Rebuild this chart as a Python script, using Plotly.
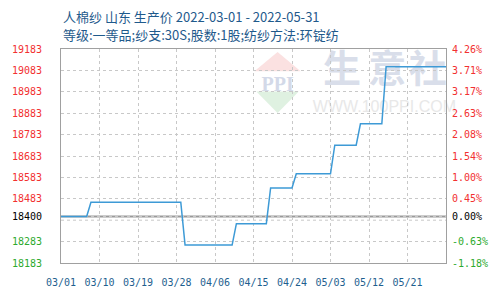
import plotly.graph_objects as go

# ---- data ----
dates = ["2022-03-01", "2022-03-07", "2022-03-08", "2022-03-29", "2022-03-30",
         "2022-04-10", "2022-04-11", "2022-04-18", "2022-04-19", "2022-04-24",
         "2022-04-25", "2022-05-03", "2022-05-04", "2022-05-09", "2022-05-10",
         "2022-05-15", "2022-05-16", "2022-05-31"]
prices = [18400, 18400, 18466.67, 18466.67, 18266.67,
          18266.67, 18366.67, 18366.67, 18533.33, 18533.33,
          18600, 18600, 18733.33, 18733.33, 18833.33,
          18833.33, 19100, 19100]

base_price = 18400
extra_grid = 18383
grid_vals = [18183, 18283, 18383, 18483, 18583, 18683, 18783, 18883, 18983, 19083, 19183]
left_vals = [18183, 18283, 18400, 18483, 18583, 18683, 18783, 18883, 18983, 19083, 19183]
left_text = ["18183", "18283", "18400", "18483", "18583", "18683", "18783", "18883", "18983", "19083", "19183"]
right_text = ["-1.18%", "-0.63%", "0.00%", "0.45%", "1.00%", "1.54%", "2.08%", "2.63%", "3.17%", "3.71%", "4.26%"]

x_tick_vals = ["2022-03-01", "2022-03-10", "2022-03-19", "2022-03-28", "2022-04-06",
               "2022-04-15", "2022-04-24", "2022-05-03", "2022-05-12", "2022-05-21"]
x_tick_text = ["03/01", "03/10", "03/19", "03/28", "04/06",
               "04/15", "04/24", "05/03", "05/12", "05/21"]
x_range = ["2022-03-01", "2022-05-30"]

title1 = "人棉纱 山东 生产价 2022-03-01 - 2022-05-31"
title2 = "等级:一等品;纱支:30S;股数:1股;纺纱方法:环锭纺"

RED, GREEN, BLACK = "#f23030", "#2eaa2e", "#000000"


def colored(vals, texts):
    out = []
    for v, t in zip(vals, texts):
        c = BLACK if v == base_price else (RED if v > base_price else GREEN)
        out.append('<span style="color:%s">%s</span>' % (c, t))
    return out


W, H = 500, 300
ML, MR, MT, MB = 50, 50, 49, 30
PW, PH = W - ML - MR, H - MT - MB


def px(x):
    return (x - ML) / PW


def py(y):
    return (H - MB - y) / PH


yrange = [grid_vals[0], grid_vals[-1]]
mono = "DejaVu Sans Mono"
GRID = "#c8c8c8"
GDASH = "3px,3px"

fig = go.Figure()
fig.add_trace(go.Scatter(x=dates, y=prices, mode="lines",
                         line=dict(color="#3d9ad6", width=1.5),
                         showlegend=False, hoverinfo="skip"))
fig.add_trace(go.Scatter(x=[dates[0]], y=[prices[0]], yaxis="y2", mode="markers",
                         marker=dict(opacity=0), showlegend=False, hoverinfo="skip"))

fig.update_layout(
    width=W, height=H,
    margin=dict(l=ML, r=MR, t=MT, b=MB, pad=0),
    paper_bgcolor="white", plot_bgcolor="white",
    xaxis=dict(type="date", range=x_range,
               tickvals=x_tick_vals, ticktext=x_tick_text,
               tickfont=dict(family=mono, size=10, color="#1f5f8f"),
               showgrid=True, gridcolor=GRID, gridwidth=1, griddash=GDASH,
               showline=True, mirror=True, linecolor="#a0a0a0", linewidth=1,
               zeroline=False, ticks="", ticklabelstandoff=10),
    yaxis=dict(range=yrange, tickvals=left_vals, ticktext=colored(left_vals, left_text),
               tickfont=dict(family=mono, size=10),
               showgrid=True, gridcolor=GRID, gridwidth=1, griddash=GDASH,
               zeroline=False,
               showline=True, mirror=True, linecolor="#a0a0a0", linewidth=1,
               ticks="", ticklabelstandoff=16),
    yaxis2=dict(range=yrange, overlaying="y", side="right",
                tickvals=left_vals, ticktext=colored(left_vals, right_text),
                tickfont=dict(family=mono, size=10),
                showgrid=False, zeroline=False, ticks="", ticklabelstandoff=5),
)

shapes = []
# watermark
shapes.append(dict(type="path", xref="paper", yref="paper",
                   path="M %f %f L %f %f L %f %f Z" % (px(275), py(52), px(251), py(72), px(299), py(72)),
                   fillcolor="#fbe1e1", line=dict(width=0), layer="below"))
shapes.append(dict(type="path", xref="paper", yref="paper",
                   path="M %f %f L %f %f L %f %f Z" % (px(253), py(93), px(297), py(93), px(275), py(115)),
                   fillcolor="#dff1e1", line=dict(width=0), layer="below"))


def wm_text(cx, cy, text, size, color, family="Noto Sans CJK SC", w=60, h=40):
    return dict(type="rect", xref="paper", yref="paper",
                x0=px(cx - w / 2), x1=px(cx + w / 2), y0=py(cy + h / 2), y1=py(cy - h / 2),
                line=dict(width=0), fillcolor="rgba(0,0,0,0)", layer="below",
                label=dict(text=text, font=dict(size=size, color=color, family=family),
                           textposition="middle center"))


shapes.append(wm_text(275, 83, "<b>PPI</b>", 20, "#d3d9e8", family="Liberation Serif"))
shapes.append(wm_text(342, 72, "<b>生</b>", 38, "#d9deea"))
shapes.append(wm_text(389, 72, "<b>意</b>", 38, "#d9deea"))
shapes.append(wm_text(431, 72, "<b>社</b>", 38, "#d9deea"))
shapes.append(wm_text(386, 106, "WWW.100PPI.COM", 16, "#e8e8e8", family="Liberation Sans", w=140, h=20))

# extra dashed gridline (unlabelled) and solid base line
shapes.append(dict(type="line", xref="paper", yref="y", x0=0, x1=1, y0=extra_grid, y1=extra_grid,
                   line=dict(color=GRID, width=1, dash=GDASH), layer="between"))
shapes.append(dict(type="line", xref="paper", yref="y", x0=0, x1=1, y0=base_price, y1=base_price,
                   line=dict(color="#9a9a9a", width=2), layer="between"))

fig.update_layout(shapes=shapes)

fig.add_annotation(text=title1, xref="paper", yref="paper", x=px(50), y=py(15),
                   xanchor="left", yanchor="middle", showarrow=False,
                   font=dict(family="Noto Sans CJK SC", size=13, color="#1f5a8c"))
fig.add_annotation(text=title2, xref="paper", yref="paper", x=px(50), y=py(34),
                   xanchor="left", yanchor="middle", showarrow=False,
                   font=dict(family="Noto Sans CJK SC", size=13, color="#1f5a8c"))

fig.write_html("out.html")
